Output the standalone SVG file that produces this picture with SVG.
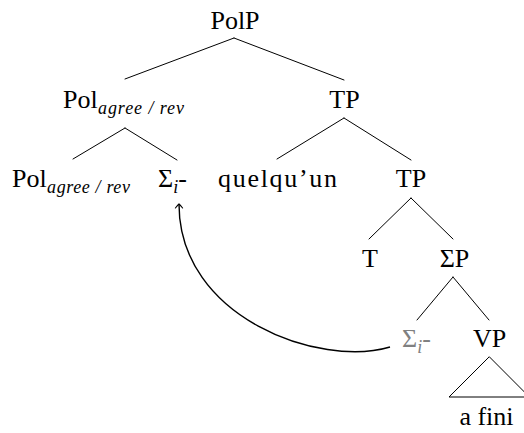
<svg xmlns="http://www.w3.org/2000/svg" width="524" height="433" viewBox="0 0 524 433" font-family="Liberation Serif, DejaVu Serif, serif">
  <style>
    .lbl { font-family: 'Liberation Serif', 'DejaVu Serif', serif; font-size: 26px; fill: #000; }
    .mid { text-anchor: middle; }
    .sub { font-size: 18px; font-style: italic; }
    .trace { fill: #808080; }
    .edge { stroke: #000; stroke-width: 1; fill: none; stroke-linecap: round; }
    .move { stroke: #000; stroke-width: 1.4; fill: none; }
  </style>
  <defs>
    <marker id="to" viewBox="-5 -5 7 10" markerWidth="7" markerHeight="10" refX="0" refY="0" orient="auto" markerUnits="userSpaceOnUse">
      <path d="M-4,-3.6 Q-1.2,-1.2 0,0 Q-1.2,1.2 -4,3.6" fill="none" stroke="#000" stroke-width="1.1" stroke-linecap="round"/>
    </marker>
  </defs>
  <rect width="524" height="433" fill="#fff"/>

  <!-- tree branches and movement arrow -->
  <g id="connectors">
    <path class="edge" d="M234,38 L125,79 M234,38 L344,80"/>
    <path class="edge" d="M125,128 L73,159 M125,128 L177,160"/>
    <path class="edge" d="M344,118 L277,159 M344,118 L411,160"/>
    <path class="edge" d="M411,198 L369,239 M411,198 L453,239"/>
    <path class="edge" d="M453,277 L417,320 M453,277 L489,320"/>
    <path class="edge" d="M489,357 L449,397 L529,397 Z"/>
    <path class="move" d="M390,347 C320,368 179,318 179,204" marker-end="url(#to)"/>
  </g>

  <g id="PolP"><text class="lbl mid" x="235" y="29">PolP</text></g>

  <g id="Pol-bar">
    <text class="lbl" x="63" y="108">Pol</text>
    <text class="lbl sub" x="98" y="114" textLength="86" lengthAdjust="spacing">agree / rev</text>
  </g>
  <g id="TP-upper"><text class="lbl mid" x="344.5" y="108">TP</text></g>

  <g id="Pol-head">
    <text class="lbl" x="12" y="187">Pol</text>
    <text class="lbl sub" x="47" y="193" textLength="83" lengthAdjust="spacing">agree / rev</text>
  </g>
  <g id="Sigma-head">
    <text class="lbl" x="158" y="187">Σ<tspan class="sub" dy="6">i</tspan><tspan dy="-6">-</tspan></text>
  </g>
  <g id="quelquun"><text class="lbl mid" x="277.5" y="187" textLength="119" lengthAdjust="spacing">quelqu’un</text></g>
  <g id="TP-lower"><text class="lbl mid" x="411" y="187">TP</text></g>

  <g id="T"><text class="lbl mid" x="370" y="267">T</text></g>
  <g id="SigmaP"><text class="lbl mid" x="454.5" y="267">ΣP</text></g>

  <g id="Sigma-trace">
    <text class="lbl trace" x="402" y="347">Σ<tspan class="sub" dy="6">i</tspan><tspan dy="-6">-</tspan></text>
  </g>
  <g id="VP"><text class="lbl mid" x="489.5" y="347">VP</text></g>

  <g id="a-fini"><text class="lbl mid" x="486.5" y="425">a fini</text></g>
</svg>
